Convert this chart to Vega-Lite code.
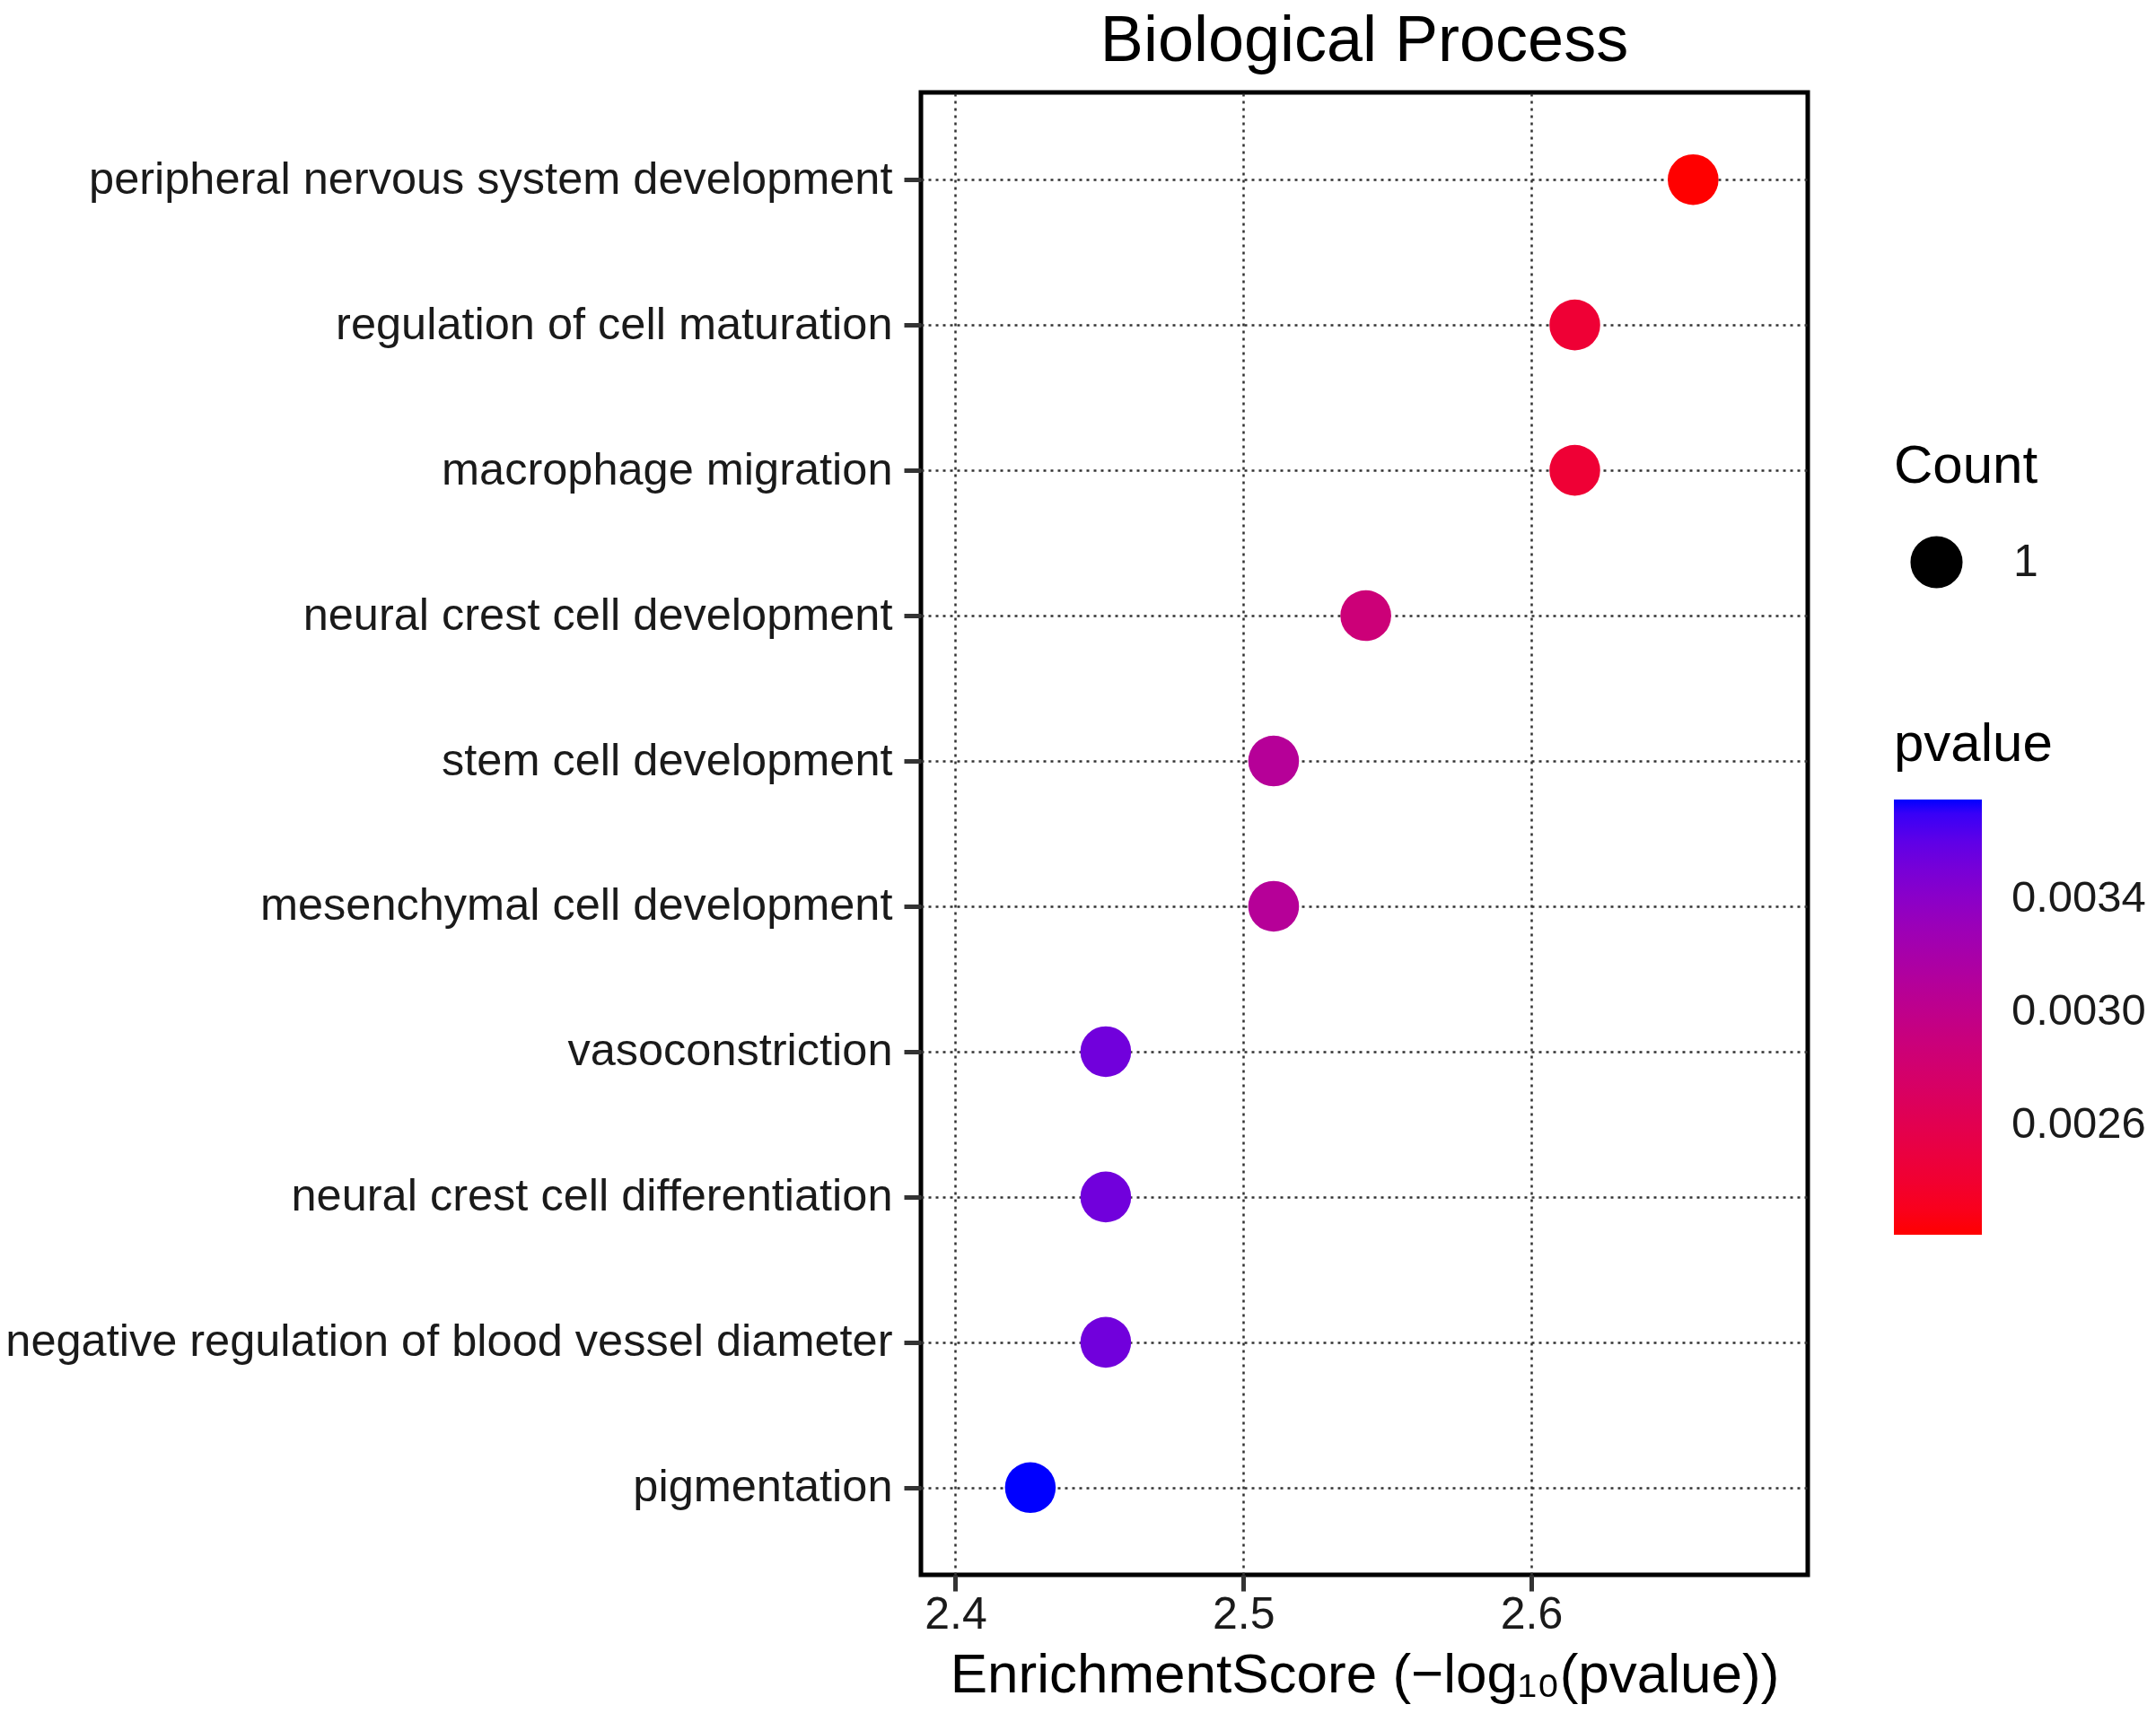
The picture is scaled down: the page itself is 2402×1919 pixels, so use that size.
{
  "$schema": "https://vega.github.io/schema/vega-lite/v6.json",
  "autosize": {"type": "none"},
  "padding": {"left": 1026, "top": 103, "right": 388, "bottom": 164},
  "width": 988,
  "height": 1652,
  "background": "white",
  "config": {
    "font": "Liberation Sans",
    "view": {"stroke": "black", "strokeWidth": 5, "fill": "white"}
  },
  "title": {
    "text": "Biological Process",
    "fontSize": 72,
    "fontWeight": "normal",
    "color": "black",
    "anchor": "middle",
    "frame": "group",
    "offset": 20
  },
  "datasets": {
    "go": [
      {"term": "peripheral nervous system development", "score": 2.6562, "pvalue": 0.002208, "Count": 1},
      {"term": "regulation of cell maturation", "score": 2.6151, "pvalue": 0.002427, "Count": 1},
      {"term": "macrophage migration", "score": 2.6151, "pvalue": 0.002427, "Count": 1},
      {"term": "neural crest cell development", "score": 2.5425, "pvalue": 0.002868, "Count": 1},
      {"term": "stem cell development", "score": 2.5105, "pvalue": 0.003087, "Count": 1},
      {"term": "mesenchymal cell development", "score": 2.5105, "pvalue": 0.003087, "Count": 1},
      {"term": "vasoconstriction", "score": 2.4522, "pvalue": 0.00353, "Count": 1},
      {"term": "neural crest cell differentiation", "score": 2.4522, "pvalue": 0.00353, "Count": 1},
      {"term": "negative regulation of blood vessel diameter", "score": 2.4522, "pvalue": 0.00353, "Count": 1},
      {"term": "pigmentation", "score": 2.426, "pvalue": 0.00375, "Count": 1}
    ]
  },
  "data": {"name": "go"},
  "mark": {"type": "point", "filled": true, "opacity": 1, "strokeWidth": 0},
  "encoding": {
    "x": {
      "field": "score",
      "type": "quantitative",
      "scale": {"domain": [2.388, 2.696], "nice": false, "zero": false},
      "axis": {
        "title": "EnrichmentScore (−log₁₀(pvalue))",
        "values": [2.4, 2.5, 2.6],
        "format": ".1f",
        "labelFontSize": 50,
        "labelColor": "#1a1a1a",
        "tickSize": 18,
        "tickWidth": 5,
        "tickColor": "#333333",
        "labelPadding": 1,
        "titleFontSize": 62,
        "titleFontWeight": "normal",
        "titleColor": "black",
        "titlePadding": 12,
        "domain": false,
        "grid": true,
        "gridColor": "#333333",
        "gridDash": [3, 5],
        "gridWidth": 2.5
      }
    },
    "y": {
      "field": "term",
      "type": "nominal",
      "sort": null,
      "scale": {"padding": 0.6},
      "axis": {
        "title": null,
        "labelFontSize": 50.5,
        "labelColor": "#1a1a1a",
        "labelLimit": 2000,
        "tickSize": 19,
        "tickWidth": 5,
        "tickColor": "#333333",
        "labelPadding": 13,
        "domain": false,
        "grid": true,
        "gridColor": "#333333",
        "gridDash": [3, 5],
        "gridWidth": 2.5
      }
    },
    "color": {
      "field": "pvalue",
      "type": "quantitative",
      "scale": {"domain": [0.002208, 0.00375], "range": ["#ff0000", "#0000ff"], "interpolate": "lab"},
      "legend": {
        "title": "pvalue",
        "orient": "none",
        "legendX": 1084,
        "legendY": 698,
        "direction": "vertical",
        "gradientLength": 485,
        "gradientThickness": 98,
        "gradientStrokeWidth": 0,
        "values": [0.0026, 0.003, 0.0034],
        "format": ".4f",
        "labelFontSize": 49,
        "labelColor": "#1a1a1a",
        "labelOffset": 33,
        "titleFontSize": 60,
        "titleFontWeight": "normal",
        "titleColor": "black",
        "titlePadding": 30,
        "padding": 0
      }
    },
    "size": {
      "field": "Count",
      "type": "quantitative",
      "scale": {"range": [3200, 3200]},
      "legend": {
        "title": "Count",
        "orient": "none",
        "legendX": 1084,
        "legendY": 388,
        "values": [1],
        "format": "d",
        "titleFontSize": 60,
        "titleFontWeight": "normal",
        "titleColor": "black",
        "titlePadding": 46,
        "labelFontSize": 50,
        "labelColor": "#1a1a1a",
        "labelOffset": 56,
        "symbolType": "circle",
        "symbolFillColor": "black",
        "symbolStrokeColor": "black",
        "symbolOffset": 18,
        "padding": 0
      }
    }
  }
}
